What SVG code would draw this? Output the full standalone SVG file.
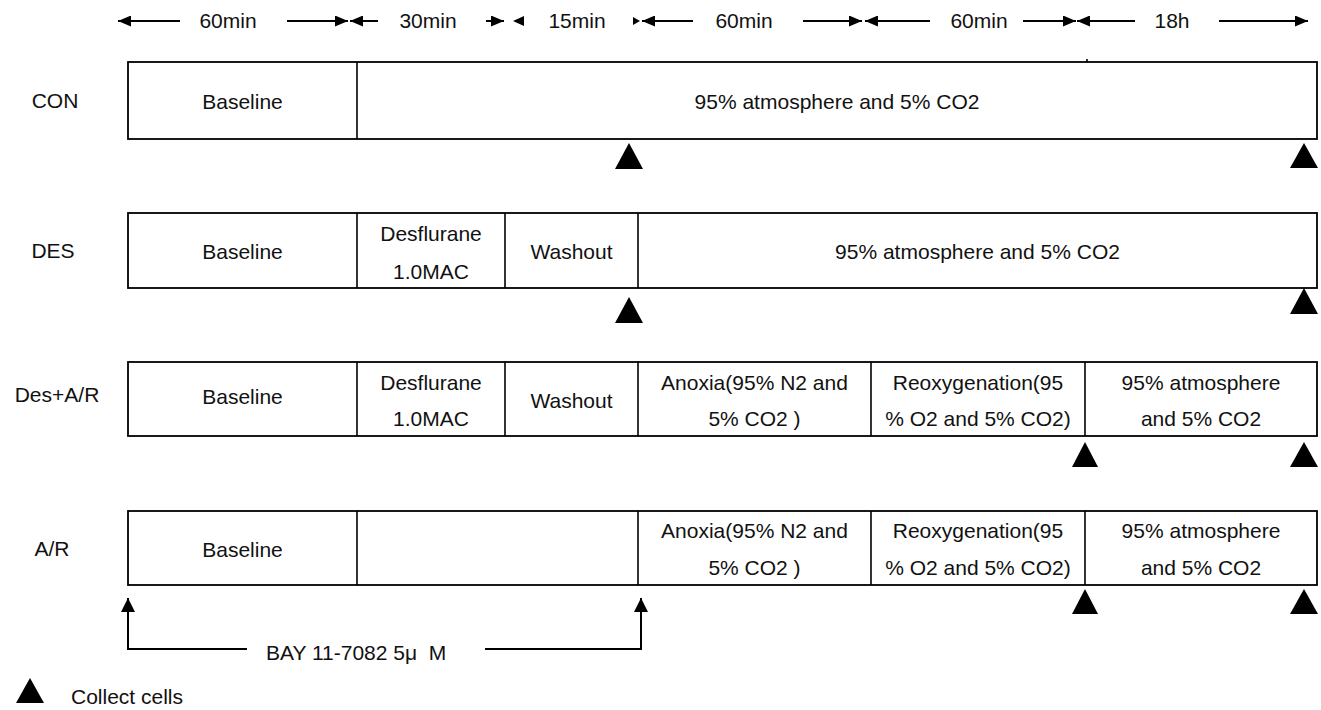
<svg xmlns="http://www.w3.org/2000/svg" width="1321" height="710" viewBox="0 0 1321 710">
<style>
  text { font-family: "Liberation Sans", Arial, sans-serif; font-size: 21px; fill: #111; }
  .c { text-anchor: middle; }
  .box { fill: #fff; stroke: #000; stroke-width: 1.8; }
  .div { stroke: #000; stroke-width: 1.6; }
  .arr { stroke: #000; stroke-width: 2; fill: none; marker-end: url(#ah); }
  .ln { stroke: #000; stroke-width: 2; fill: none; }
  .up { stroke: #000; stroke-width: 2; fill: none; marker-end: url(#ah2); }
  .tri { fill: #000; }
</style>
<defs>
  <marker id="ah" markerUnits="userSpaceOnUse" markerWidth="13" markerHeight="11" refX="13" refY="5.5" orient="auto">
    <path d="M0,0 L13,5.5 L0,11 z" fill="#000"/>
  </marker>
  <marker id="ah2" markerUnits="userSpaceOnUse" markerWidth="14" markerHeight="14" refX="14" refY="7" orient="auto">
    <path d="M0,0 L14,7 L0,14 z" fill="#000"/>
  </marker>
</defs>
<rect width="1321" height="710" fill="#fff"/>

<g id="header">
  <g id="dur-60a">
    <line class="arr" x1="180" y1="21" x2="118" y2="21"/>
    <text class="c" x="228" y="28">60min</text>
    <line class="arr" x1="287" y1="21" x2="348" y2="21"/>
  </g>
  <g id="dur-30">
    <line class="arr" x1="378" y1="21" x2="350" y2="21"/>
    <text class="c" x="428" y="28">30min</text>
    <line class="arr" x1="486" y1="21" x2="504" y2="21"/>
  </g>
  <g id="dur-15">
    <polygon class="tri" points="513,21 524,16 524,26"/>
    <text class="c" x="577" y="28">15min</text>
    <polygon class="tri" points="640,21 633,17 633,25"/>
  </g>
  <g id="dur-60b">
    <line class="arr" x1="693" y1="21" x2="642" y2="21"/>
    <text class="c" x="744" y="28">60min</text>
    <line class="arr" x1="803" y1="21" x2="862" y2="21"/>
  </g>
  <g id="dur-60c">
    <line class="arr" x1="930" y1="21" x2="865" y2="21"/>
    <text class="c" x="979" y="28">60min</text>
    <line class="arr" x1="1023" y1="21" x2="1076" y2="21"/>
  </g>
  <g id="dur-18h">
    <line class="arr" x1="1135" y1="21" x2="1077" y2="21"/>
    <text class="c" x="1172" y="28">18h</text>
    <line class="arr" x1="1219" y1="21" x2="1308" y2="21"/>
  </g>
</g>

<g id="row-con">
  <text class="c" x="55" y="108">CON</text>
  <rect class="box" x="128" y="62" width="1189" height="77"/>
  <line class="div" x1="357" y1="62" x2="357" y2="139"/>
  <line class="div" x1="1087" y1="59" x2="1087" y2="62"/>
  <text class="c" x="242.5" y="108.5">Baseline</text>
  <text class="c" x="837" y="108.5">95% atmosphere and 5% CO2</text>
  <polygon class="tri" points="629,143 643,169 615,169"/>
  <polygon class="tri" points="1304,143 1318,168 1290,168"/>
</g>

<g id="row-des">
  <text class="c" x="53" y="258">DES</text>
  <rect class="box" x="128" y="213" width="1189" height="75"/>
  <line class="div" x1="357" y1="213" x2="357" y2="288"/>
  <line class="div" x1="505" y1="213" x2="505" y2="288"/>
  <line class="div" x1="638" y1="213" x2="638" y2="288"/>
  <text class="c" x="242.5" y="258.5">Baseline</text>
  <text class="c" x="431" y="241">Desflurane</text>
  <text class="c" x="431" y="278.5">1.0MAC</text>
  <text class="c" x="571.5" y="258.5">Washout</text>
  <text class="c" x="977.5" y="258.5">95% atmosphere and 5% CO2</text>
  <polygon class="tri" points="629,297 643,323 615,323"/>
  <polygon class="tri" points="1304,288 1318,314 1290,314"/>
</g>

<g id="row-des-ar">
  <text class="c" x="57" y="402">Des+A/R</text>
  <rect class="box" x="128" y="362" width="1189" height="74"/>
  <line class="div" x1="357" y1="362" x2="357" y2="436"/>
  <line class="div" x1="505" y1="362" x2="505" y2="436"/>
  <line class="div" x1="638" y1="362" x2="638" y2="436"/>
  <line class="div" x1="871" y1="362" x2="871" y2="436"/>
  <line class="div" x1="1085" y1="362" x2="1085" y2="436"/>
  <text class="c" x="242.5" y="403.5">Baseline</text>
  <text class="c" x="431" y="390">Desflurane</text>
  <text class="c" x="431" y="426">1.0MAC</text>
  <text class="c" x="571.5" y="407.5">Washout</text>
  <text class="c" x="754.5" y="390">Anoxia(95% N2 and</text>
  <text class="c" x="754.5" y="426">5% CO2 )</text>
  <text class="c" x="978" y="390">Reoxygenation(95</text>
  <text class="c" x="978" y="426">% O2 and 5% CO2)</text>
  <text class="c" x="1201" y="390">95% atmosphere</text>
  <text class="c" x="1201" y="426">and 5% CO2</text>
  <polygon class="tri" points="1085,442 1098,467 1072,467"/>
  <polygon class="tri" points="1304,442 1318,467 1290,467"/>
</g>

<g id="row-ar">
  <text class="c" x="52" y="556">A/R</text>
  <rect class="box" x="128" y="511" width="1189" height="74"/>
  <line class="div" x1="357" y1="511" x2="357" y2="585"/>
  <line class="div" x1="638" y1="511" x2="638" y2="585"/>
  <line class="div" x1="871" y1="511" x2="871" y2="585"/>
  <line class="div" x1="1085" y1="511" x2="1085" y2="585"/>
  <text class="c" x="242.5" y="556.5">Baseline</text>
  <text class="c" x="754.5" y="538">Anoxia(95% N2 and</text>
  <text class="c" x="754.5" y="575">5% CO2 )</text>
  <text class="c" x="978" y="538">Reoxygenation(95</text>
  <text class="c" x="978" y="575">% O2 and 5% CO2)</text>
  <text class="c" x="1201" y="538">95% atmosphere</text>
  <text class="c" x="1201" y="575">and 5% CO2</text>
  <polygon class="tri" points="1085,589 1098,614 1072,614"/>
  <polygon class="tri" points="1304,589 1318,614 1290,614"/>
</g>

<g id="connectors">
  <path class="up" d="M247,649 H128 V598"/>
  <path class="up" d="M485,649 H641 V598"/>
</g>
<g id="bay-label">
  <text x="266" y="660" style="white-space:pre">BAY 11-7082 5μ  M</text>
</g>

<g id="legend">
  <polygon class="tri" points="30,678 44,703 16,703"/>
  <text x="71" y="704">Collect cells</text>
</g>
</svg>
